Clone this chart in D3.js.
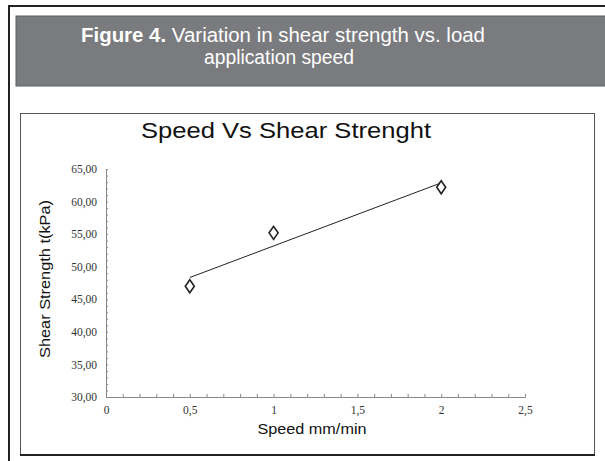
<!DOCTYPE html>
<html>
<head>
<meta charset="utf-8">
<script src="https://cdn.jsdelivr.net/npm/d3@7"></script>
<style>
  html, body { margin: 0; padding: 0; background: #fff; }
  svg { display: block; }
</style>
</head>
<body>
<svg id="chart" width="605" height="461"></svg>
<script>
// ---- data ----
const speeds = [0.5, 1, 2];                 // mm/min
const strengths = [47.0, 55.2, 62.2];       // kPa
const xTickValues = [0, 0.5, 1, 1.5, 2, 2.5];
const yTickValues = [30, 35, 40, 45, 50, 55, 60, 65];
const captionBold = "Figure 4.";
const captionRest = " Variation in shear strength vs. load";
const captionLine2 = "application speed";
const chartTitle = "Speed Vs Shear Strenght";
const xLabel = "Speed mm/min";
const yLabel = "Shear Strength t(kPa)";

const svg = d3.select("#chart");
const locale = d3.formatLocale({decimal: ",", thousands: ".", grouping: [3], currency: ["", ""]});
const fmtY = locale.format(".2f");
const fmtX = v => locale.format("")(v);
const sans = "Liberation Sans, Arial, sans-serif";

// outer frame
svg.append("rect").attr("x", 9).attr("y", 6).attr("width", 620).attr("height", 480)
  .attr("fill", "none").attr("stroke", "#222").attr("stroke-width", 2);

// caption header
svg.append("rect").attr("x", 16).attr("y", 16).attr("width", 600).attr("height", 70)
  .attr("fill", "#7a7b7e").attr("stroke", "#5d5e61").attr("stroke-width", 1);
const cap = svg.append("text").attr("x", 283).attr("y", 42).attr("text-anchor", "middle")
  .attr("font-family", sans).attr("font-size", 19.5).attr("fill", "#fff")
  .attr("textLength", 404).attr("lengthAdjust", "spacingAndGlyphs");
cap.append("tspan").attr("font-weight", "bold").text(captionBold);
cap.append("tspan").text(captionRest);
svg.append("text").attr("x", 279).attr("y", 64).attr("text-anchor", "middle")
  .attr("font-family", sans).attr("font-size", 19.5).attr("fill", "#fff")
  .attr("textLength", 150).attr("lengthAdjust", "spacingAndGlyphs")
  .text(captionLine2);

// chart box
svg.append("rect").attr("x", 20.5).attr("y", 113.5).attr("width", 574).attr("height", 341)
  .attr("fill", "#fff").attr("stroke", "#555").attr("stroke-width", 1);
svg.append("line").attr("x1", 20).attr("x2", 595).attr("y1", 455).attr("y2", 455)
  .attr("stroke", "#222").attr("stroke-width", 2);

// title
svg.append("text").attr("x", 286).attr("y", 138).attr("text-anchor", "middle")
  .attr("font-family", sans).attr("font-size", 22).attr("fill", "#111")
  .attr("textLength", 290).attr("lengthAdjust", "spacingAndGlyphs")
  .text(chartTitle);

// scales
const x = d3.scaleLinear().domain([0, 2.5]).range([106, 525]);
const y = d3.scaleLinear().domain([30, 65]).range([397, 169]);

const axisColor = "#888";
// minor ticks
const gxMinor = svg.append("g").attr("transform", `translate(0,${y(30)})`)
  .call(d3.axisTop(x).tickValues(d3.range(0, 2.501, 0.1)).tickSize(3).tickFormat(""));
const gyMinor = svg.append("g").attr("transform", `translate(${x(0)},0)`)
  .call(d3.axisRight(y).tickValues(d3.range(30, 65.01, 1)).tickSize(2).tickFormat(""));
[gxMinor, gyMinor].forEach(g => {
  g.selectAll("path").attr("stroke", axisColor);
  g.selectAll("line").attr("stroke", axisColor);
});

// major labels
const gx = svg.append("g").attr("transform", `translate(0,${y(30)})`)
  .call(d3.axisBottom(x).tickValues(xTickValues).tickSize(0).tickPadding(9).tickFormat(fmtX));
gx.select(".domain").remove();
gx.selectAll("text").attr("font-family", "Liberation Serif, Times New Roman, serif")
  .attr("font-size", 11.5).attr("fill", "#333");

const gy = svg.append("g").attr("transform", `translate(${x(0)},0)`)
  .call(d3.axisLeft(y).tickValues(yTickValues).tickSize(0).tickPadding(9).tickFormat(fmtY));
gy.select(".domain").remove();
gy.selectAll("text").attr("font-family", "Liberation Serif, Times New Roman, serif")
  .attr("font-size", 11.5).attr("fill", "#333");

// axis labels
svg.append("text").attr("x", 312).attr("y", 434).attr("text-anchor", "middle")
  .attr("font-family", sans).attr("font-size", 15).attr("fill", "#111")
  .attr("textLength", 109).attr("lengthAdjust", "spacingAndGlyphs")
  .text(xLabel);
svg.append("text").attr("transform", "translate(50,279) rotate(-90)").attr("text-anchor", "middle")
  .attr("font-family", sans).attr("font-size", 15).attr("fill", "#111")
  .attr("textLength", 158).attr("lengthAdjust", "spacingAndGlyphs")
  .text(yLabel);

// linear trend line (least squares on the data)
const mx = d3.mean(speeds), my = d3.mean(strengths);
const sxy = d3.sum(speeds, (v, i) => (v - mx) * (strengths[i] - my));
const sxx = d3.sum(speeds, v => (v - mx) ** 2);
const slope = sxy / sxx, intercept = my - slope * mx;
const xmin = d3.min(speeds), xmax = d3.max(speeds);
svg.append("line")
  .attr("x1", x(xmin)).attr("y1", y(intercept + slope * xmin))
  .attr("x2", x(xmax)).attr("y2", y(intercept + slope * xmax))
  .attr("stroke", "#222").attr("stroke-width", 1);

// diamond markers
const diamond = "M0,-6.5L4.5,0L0,6.5L-4.5,0Z";
svg.append("g").selectAll("path").data(speeds).join("path")
  .attr("transform", (d, i) => `translate(${x(d)},${y(strengths[i])})`)
  .attr("d", diamond)
  .attr("fill", "#fff").attr("stroke", "#222").attr("stroke-width", 1.6);
</script>
</body>
</html>
